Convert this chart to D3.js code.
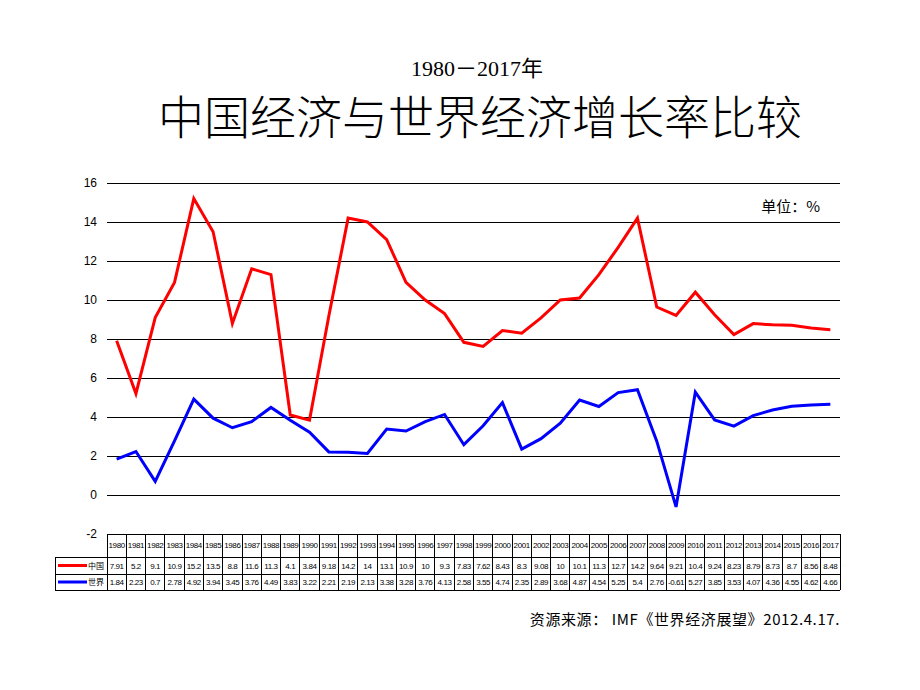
<!DOCTYPE html>
<html><head><meta charset="utf-8">
<script src="https://cdn.jsdelivr.net/npm/d3@7"></script>
<style>body{margin:0;background:#fff}</style>
</head><body>
<svg id="c" width="920" height="690"></svg>
<script>
const years = [1980,1981,1982,1983,1984,1985,1986,1987,1988,1989,1990,1991,1992,1993,1994,1995,1996,1997,1998,1999,2000,2001,2002,2003,2004,2005,2006,2007,2008,2009,2010,2011,2012,2013,2014,2015,2016,2017];
const china = [7.91,5.2,9.1,10.9,15.2,13.5,8.8,11.6,11.3,4.1,3.84,9.18,14.2,14,13.1,10.9,10,9.3,7.83,7.62,8.43,8.3,9.08,10,10.1,11.3,12.7,14.2,9.64,9.21,10.4,9.24,8.23,8.79,8.73,8.7,8.56,8.48];
const world = [1.84,2.23,0.7,2.78,4.92,3.94,3.45,3.76,4.49,3.83,3.22,2.21,2.19,2.13,3.38,3.28,3.76,4.13,2.58,3.55,4.74,2.35,2.89,3.68,4.87,4.54,5.25,5.4,2.76,-0.61,5.27,3.85,3.53,4.07,4.36,4.55,4.62,4.66];
const yTicks = [-2,0,2,4,6,8,10,12,14,16];
const seriesNames = ["中国","世界"];
const seriesColors = ["#ff0000","#0000ff"];

const svg = d3.select("#c");
const left = 107, right = 840;
const x = d3.scaleBand().domain(years).range([left, right]);
const y = d3.scaleLinear().domain([-2,16]).range([534,183]);

// titles
svg.append("text").attr("x",477).attr("y",76).attr("text-anchor","middle")
  .attr("font-family","'Liberation Serif','Noto Sans CJK SC'").attr("font-size",22).text("1980－2017年");
svg.append("text").attr("x",480).attr("y",134).attr("text-anchor","middle")
  .attr("font-family","'Noto Sans CJK SC'").attr("font-weight",300).attr("font-size",46).text("中国经济与世界经济增长率比较");

// grid
const gridTicks = yTicks.filter(d=>d>-2);
svg.append("g").selectAll("line").data(gridTicks).join("line")
  .attr("x1",left).attr("x2",right).attr("y1",d=>y(d)).attr("y2",d=>y(d))
  .attr("stroke","#000").attr("stroke-width",1).attr("shape-rendering","crispEdges");
svg.append("g").selectAll("text").data(yTicks).join("text")
  .attr("x",97).attr("y",d=>y(d)+4).attr("text-anchor","end")
  .attr("font-family","'Liberation Sans',Arial").attr("font-size",12).text(d=>d);

// unit
svg.append("text").attr("x",820).attr("y",212).attr("text-anchor","end")
  .attr("font-family","'Noto Sans CJK SC','Liberation Sans'").attr("font-size",15).text("单位：%");

// lines
const line = d3.line().x((d,i)=>x(years[i])+x.bandwidth()/2).y(d=>y(d));
[china, world].forEach((s,k)=>{
  svg.append("path").datum(s).attr("d",line).attr("fill","none")
    .attr("stroke",seriesColors[k]).attr("stroke-width",3).attr("stroke-linejoin","miter");
});

// table
const rowY = [534,557,574,590];
const tg = svg.append("g").attr("shape-rendering","crispEdges");
tg.selectAll("line.h").data(rowY).join("line").attr("class","h")
  .attr("x1",(d,i)=>i===0?left:55).attr("x2",right).attr("y1",d=>d).attr("y2",d=>d)
  .attr("stroke","#000");
const vx = years.map(d=>x(d)).concat([right]);
tg.selectAll("line.v").data(vx).join("line").attr("class","v")
  .attr("x1",d=>d).attr("x2",d=>d).attr("y1",rowY[0]).attr("y2",rowY[3]).attr("stroke","#000");
tg.append("line").attr("x1",55).attr("x2",55).attr("y1",rowY[1]).attr("y2",rowY[3]).attr("stroke","#000");

const fs = 8;
svg.append("g").selectAll("text").data(years).join("text")
  .attr("x",d=>x(d)+x.bandwidth()/2).attr("y",548).attr("text-anchor","middle")
  .attr("font-family","'Liberation Sans',Arial").attr("font-size",fs).attr("letter-spacing",-0.4).text(d=>d);
[china, world].forEach((s,k)=>{
  const cy = (rowY[k+1]+rowY[k+2])/2 + 3;
  svg.append("g").selectAll("text").data(s).join("text")
    .attr("x",(d,i)=>x(years[i])+x.bandwidth()/2).attr("y",cy).attr("text-anchor","middle")
    .attr("font-family","'Liberation Sans',Arial").attr("font-size",fs).attr("letter-spacing",-0.4).text(d=>d);
  svg.append("line").attr("x1",58).attr("x2",87).attr("y1",cy-3).attr("y2",cy-3)
    .attr("stroke",seriesColors[k]).attr("stroke-width",3);
  svg.append("text").attr("x",88).attr("y",cy).attr("font-family","'Noto Sans CJK SC'")
    .attr("font-size",8).text(seriesNames[k]);
});

// source
svg.append("text").attr("x",840).attr("y",625).attr("text-anchor","end")
  .attr("font-family","'Noto Sans CJK SC','Liberation Sans'").attr("font-size",15).attr("letter-spacing",0.6)
  .text("资源来源： IMF《世界经济展望》2012.4.17.");
</script>
</body></html>
